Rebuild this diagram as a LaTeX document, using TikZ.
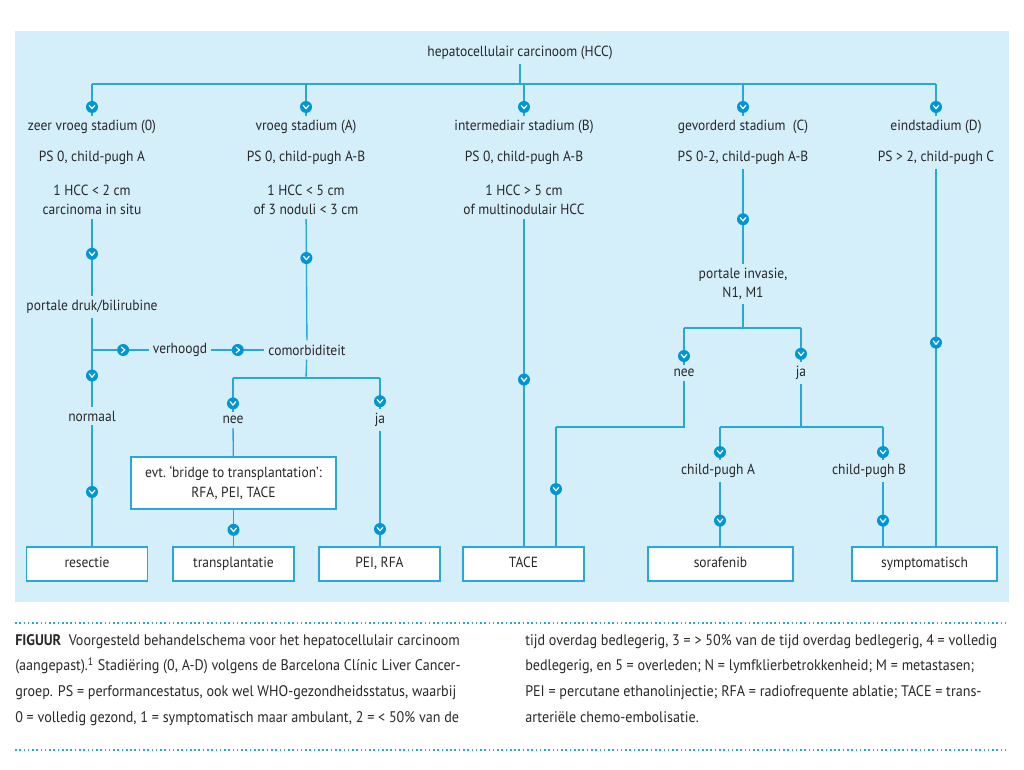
\documentclass[tikz,border=0pt]{standalone}
\usepackage{fontspec}
\setmainfont{PT Sans}[FakeStretch=0.92]
\usetikzlibrary{positioning}
\definecolor{hcbg}{RGB}{212,238,250}
\definecolor{hclijn}{RGB}{38,168,222}
\definecolor{hcmark}{RGB}{0,150,214}
\definecolor{hctekst}{RGB}{40,40,40}
\tikzset{
  lbl/.style={align=center, inner sep=3pt, text=hctekst, font=\fontsize{11}{14.5}\selectfont},
  kader/.style={lbl, draw=hclijn, fill=white, line width=1pt},
  box/.style={kader, minimum width=90.75pt, minimum height=25.5pt, text height=8pt, text depth=2.5pt},
  lijn/.style={draw=hclijn, line width=1pt},
  mkv/.style={circle, fill=hcmark, inner sep=0pt, minimum size=9pt,
    path picture={\draw[white, line width=0.9pt, line cap=round, line join=round]
      ([shift={(-2.1pt,1.3pt)}]path picture bounding box.center) --
      ([shift={(0pt,-1.3pt)}]path picture bounding box.center) --
      ([shift={(2.1pt,1.3pt)}]path picture bounding box.center);}},
  mkr/.style={mkv, path picture={\draw[white, line width=0.9pt, line cap=round, line join=round]
      ([shift={(-1.3pt,2.1pt)}]path picture bounding box.center) --
      ([shift={(1.3pt,0pt)}]path picture bounding box.center) --
      ([shift={(-1.3pt,-2.1pt)}]path picture bounding box.center);}},
  bijschrift/.style={align=left, inner sep=0pt, anchor=north west, text=hctekst, font=\fontsize{11.5}{19.3}\selectfont}
}
\begin{document}
\begin{tikzpicture}[x=0.75pt, y=-0.75pt]
\useasboundingbox (0,0) rectangle (1024,770);
% Background
\fill[hcbg] (15,31) rectangle (1009,602);
% Nodes
\node[lbl] (hcc) at (520,53) {hepatocellulair carcinoom (HCC)};
\node[lbl] (st0) at (92,127) {zeer vroeg stadium (0)};
\node[lbl] (stA) at (306,127) {vroeg stadium (A)};
\node[lbl] (stB) at (524,127) {intermediair stadium (B)};
\node[lbl] (stC) at (743,127) {gevorderd stadium\ \ (C)};
\node[lbl] (stD) at (936,127) {eindstadium (D)};
\node[lbl] (ps0) at (92,158) {PS 0, child-pugh A};
\node[lbl] (psA) at (306,158) {PS 0, child-pugh A-B};
\node[lbl] (psB) at (524,158) {PS 0, child-pugh A-B};
\node[lbl] (psC) at (743,158) {PS 0-2, child-pugh A-B};
\node[lbl] (psD) at (936,158) {PS > 2, child-pugh C};
\node[lbl] (sz0) at (92,200) {1 HCC < 2 cm\\carcinoma in situ};
\node[lbl] (szA) at (306,200) {1 HCC < 5 cm\\of 3 noduli < 3 cm};
\node[lbl] (szB) at (524,200) {1 HCC > 5 cm\\of multinodulair HCC};
\node[lbl] (druk) at (92,307) {portale druk/bilirubine};
\node[lbl] (hoog) at (180,350) {verhoogd};
\node[lbl] (comorb) at (307,350) {comorbiditeit};
\node[lbl] (normaal) at (92,416) {normaal};
\node[lbl] (neeA) at (233,420) {nee};
\node[lbl] (jaA) at (380,420) {ja};
\node[lbl] (invasie) at (743,284) {portale invasie,\\N1, M1};
\node[lbl] (neeC) at (684,373) {nee};
\node[lbl] (jaC) at (801,373) {ja};
\node[lbl] (cpA) at (718,471) {child-pugh A};
\node[lbl] (cpB) at (869,471) {child-pugh B};
\node[kader, minimum width=153.75pt, minimum height=39pt] (bridge) at (233.5,483) {evt.\ ‘bridge to transplantation’:\\RFA, PEI, TACE};
\node[box] (resectie) at (87,564) {resectie};
\node[box] (transpl) at (233.5,564) {transplantatie};
\node[box] (pei) at (379.5,564) {PEI, RFA};
\node[box] (tace) at (523.5,564) {TACE};
\node[box, minimum width=108.75pt] (sora) at (720.5,564) {sorafenib};
\node[box, minimum width=108.75pt] (symp) at (924.5,564) {symptomatisch};
% Coordinates
\coordinate (b0) at (92,84);
\coordinate (bD) at (936,84);
\coordinate (kA) at (306,378);
\coordinate (kC) at (743,328);
\coordinate (kN) at (556,427);
\coordinate (kJ) at (801,427);
\coordinate (kP) at (720,427);
\coordinate (kB) at (883,427);
% Lines
\draw[lijn] (hcc) -- (hcc |- b0);
\draw[lijn] (b0) -- (bD);
\draw[lijn] (b0) -- node[mkv, pos=.72]{} (st0);
\draw[lijn] (b0 -| stA) -- node[mkv, pos=.72]{} (stA);
\draw[lijn] (b0 -| stB) -- node[mkv, pos=.72]{} (stB);
\draw[lijn] (b0 -| stC) -- node[mkv, pos=.72]{} (stC);
\draw[lijn] (bD) -- node[mkv, pos=.72]{} (stD);
% stadium 0
\draw[lijn] (sz0) -- node[mkv, pos=.45]{} (druk);
\draw[lijn] (druk) -- node[mkv, pos=.65]{} (normaal);
\draw[lijn] (druk |- hoog) -- node[mkr, pos=.55]{} (hoog);
\draw[lijn] (hoog) -- node[mkr]{} (comorb);
\draw[lijn] (normaal) -- node[mkv, pos=.55]{} (resectie.north -| normaal);
% stadium A
\draw[lijn] (szA) -- node[mkv, pos=.32]{} (comorb);
\draw[lijn] (comorb) -- (kA);
\draw[lijn] (kA -| neeA) -- (kA -| jaA);
\draw[lijn] (kA -| neeA) -- node[mkv, pos=.75]{} (neeA);
\draw[lijn] (kA -| jaA) -- node[mkv, pos=.75]{} (jaA);
\draw[lijn] (neeA) -- (bridge);
\draw[lijn] (bridge) -- node[mkv, pos=.55]{} (transpl);
\draw[lijn] (jaA) -- node[mkv, pos=.85]{} (jaA |- pei.north);
% stadium B
\draw[lijn] (szB) -- node[mkv, pos=.49]{} (szB |- tace.north);
% stadium C
\draw[lijn] (psC) -- node[mkv, pos=.53]{} (invasie);
\draw[lijn] (invasie) -- (kC);
\draw[lijn] (kC -| neeC) -- (kC -| jaC);
\draw[lijn] (kC -| neeC) -- node[mkv, pos=.76]{} (neeC);
\draw[lijn] (kC -| jaC) -- node[mkv, pos=.76]{} (jaC);
\draw[lijn] (neeC) |- (kN);
\draw[lijn] (kN) -- node[mkv, pos=.52]{} (kN |- tace.north);
\draw[lijn] (jaC) -- (kJ);
\draw[lijn] (kP) -- (kB);
\draw[lijn] (kP) -- node[mkv, pos=.76]{} (kP |- cpA.north);
\draw[lijn] (kB) -- node[mkv, pos=.76]{} (kB |- cpB.north);
\draw[lijn] (kP |- cpA.south) -- node[mkv, pos=.6]{} (kP |- sora.north);
\draw[lijn] (kB |- cpB.south) -- node[mkv, pos=.6]{} (kB |- symp.north);
% stadium D
\draw[lijn] (psD) -- node[mkv, pos=.46]{} (psD |- symp.north);
% Caption
\draw[hclijn, line width=1.2pt, dotted] (15,623) -- (1009,623);
\draw[hclijn, line width=1.2pt, dotted] (15,750) -- (1009,750);
\node[bijschrift] (capL) at (15,634) {\textbf{FIGUUR}\ \ Voorgesteld behandelschema voor het hepatocellulair carcinoom\\
(aangepast).\textsuperscript{1} Stadiëring (0, A-D) volgens de Barcelona Clínic Liver Cancer-\\
groep. PS = performancestatus, ook wel WHO-gezondheidsstatus, waarbij\\
0 = volledig gezond, 1 = symptomatisch maar ambulant, 2 = < 50\% van de};
\node[bijschrift] (capR) at (525,634) {tijd overdag bedlegerig, 3 = > 50\% van de tijd overdag bedlegerig, 4 = volledig\\
bedlegerig, en 5 = overleden; N = lymfklierbetrokkenheid; M = metastasen;\\
PEI = percutane ethanolinjectie; RFA = radiofrequente ablatie; TACE = trans-\\
arteriële chemo-embolisatie.};
\end{tikzpicture}
\end{document}
